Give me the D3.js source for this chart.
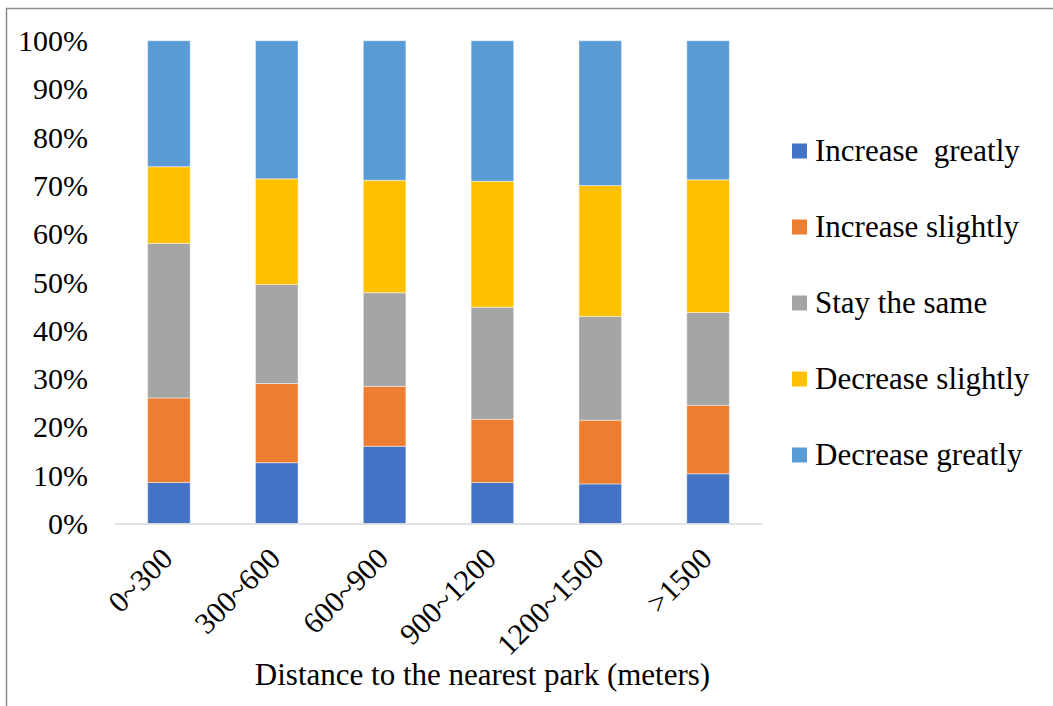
<!DOCTYPE html>
<html><head><meta charset="utf-8">
<script src="https://cdn.jsdelivr.net/npm/d3@7"></script>
<style>body{margin:0;background:#fff}svg{display:block}text{font-family:"Liberation Serif","Times New Roman",serif;fill:#000}</style>
</head><body><svg id="c" width="1053" height="706"></svg>
<script>
const categories = ["0~300","300~600","600~900","900~1200","1200~1500",">1500"];
const seriesNames = ["Increase  greatly","Increase slightly","Stay the same","Decrease slightly","Decrease greatly"];
const increaseGreatly = [8.5, 12.6, 16.0, 8.5, 8.2, 10.3];
const increaseSlightly = [17.5, 16.4, 12.4, 13.1, 13.2, 14.2];
const stayTheSame = [32.0, 20.5, 19.4, 23.2, 21.5, 19.2];
const decreaseSlightly = [15.9, 21.9, 23.3, 26.1, 27.1, 27.5];
const decreaseGreatly = [26.1, 28.6, 28.9, 29.1, 30.0, 28.8];
const yTicks = [0,10,20,30,40,50,60,70,80,90,100];
const colors = ["#4472C4","#ED7D31","#A5A5A5","#FFC000","#5B9BD5"];
const xTitle = "Distance to the nearest park (meters)";

const svg = d3.select("#c");
// outer border (top and left)
svg.append("path").attr("d","M6.5,706 V8.5 H1053").attr("fill","none").attr("stroke","#8c8c8c").attr("stroke-width",1.5);

const pLeft = 115, pRight = 762, pTop = 40.7, pBottom = 523.5;
const x = d3.scaleBand().domain(categories).range([pLeft,pRight]).paddingInner(0.605).paddingOuter(0.3025);
const y = d3.scaleLinear().domain([0,100]).range([pBottom,pTop]);

const seriesData = [increaseGreatly,increaseSlightly,stayTheSame,decreaseSlightly,decreaseGreatly];
const rows = categories.map((c,i)=>{const r={cat:c}; seriesNames.forEach((s,j)=>r[s]=seriesData[j][i]); return r;});
const stack = d3.stack().keys(seriesNames)(rows);

svg.append("g").selectAll("g").data(stack).join("g").attr("fill",(d,i)=>colors[i])
  .selectAll("rect").data(d=>d).join("rect")
  .attr("x",d=>x(d.data.cat)).attr("width",x.bandwidth())
  .attr("y",d=>y(d[1])).attr("height",d=>y(d[0])-y(d[1]))
  .attr("stroke","rgba(255,255,255,0.45)").attr("stroke-width",1);

// x axis line
svg.append("line").attr("x1",pLeft).attr("x2",pRight).attr("y1",524).attr("y2",524).attr("stroke","#d9d9d9").attr("stroke-width",1.5);

// y tick labels
const yAxis = d3.axisLeft(y).tickValues(yTicks).tickFormat(d=>d+"%").tickSize(0).tickPadding(0);
const ya = svg.append("g").attr("transform","translate(88,0)").call(yAxis);
ya.select(".domain").remove();
ya.selectAll("text").attr("font-size",30).attr("font-family","Liberation Serif").attr("dy","0.33em");

// x tick labels
const xAxis = d3.axisBottom(x).tickSize(0).tickPadding(0);
const xa = svg.append("g").attr("transform","translate(0,540)").call(xAxis);
xa.select(".domain").remove();
xa.selectAll("text").attr("font-size",30).attr("font-family","Liberation Serif")
  .attr("text-anchor","end").attr("dy","0.35em").attr("y",0)
  .attr("transform","translate(-2,13) rotate(-45)");

svg.append("text").attr("x",482.5).attr("y",685).attr("text-anchor","middle").attr("font-size",31).text(xTitle);

// legend
const lg = svg.append("g").selectAll("g").data(seriesNames).join("g")
  .attr("transform",(d,i)=>`translate(792,${151+i*76})`);
lg.append("rect").attr("x",0).attr("y",-7.5).attr("width",15).attr("height",15).attr("fill",(d,i)=>colors[i]);
lg.append("text").attr("x",23).attr("y",-1).attr("dy","0.35em").attr("font-size",31).style("white-space","pre").text(d=>d);
</script></body></html>
